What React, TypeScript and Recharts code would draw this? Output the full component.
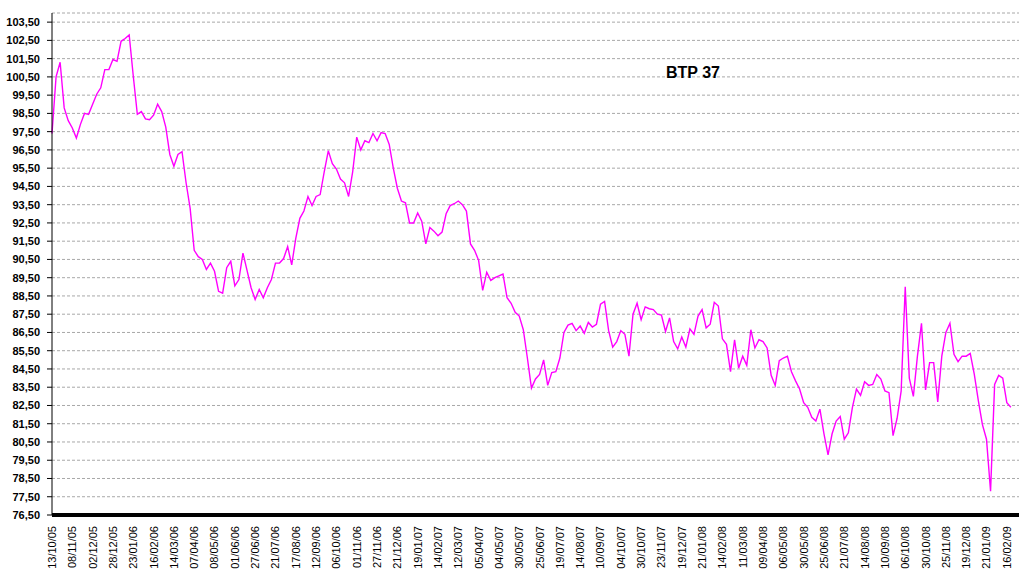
import { LineChart, Line, XAxis, YAxis, CartesianGrid } from 'recharts';

const dateLabels = [
  '13/10/05', '08/11/05', '02/12/05', '28/12/05', '23/01/06', '16/02/06', '14/03/06', '07/04/06',
  '08/05/06', '01/06/06', '27/06/06', '21/07/06', '17/08/06', '12/09/06', '06/10/06', '01/11/06',
  '27/11/06', '21/12/06', '19/01/07', '14/02/07', '12/03/07', '05/04/07', '04/05/07', '30/05/07',
  '25/06/07', '19/07/07', '14/08/07', '10/09/07', '04/10/07', '30/10/07', '23/11/07', '19/12/07',
  '21/01/08', '14/02/08', '11/03/08', '09/04/08', '06/05/08', '30/05/08', '25/06/08', '21/07/08',
  '14/08/08', '10/09/08', '06/10/08', '30/10/08', '25/11/08', '19/12/08', '21/01/09', '16/02/09',
];

// one label every 5 points
const pointsPerLabel = 5;

const prices = [
  97.4, 100.5, 101.3, 98.8, 98.1, 97.7, 97.15, 97.9, 98.5, 98.45,
  99.0, 99.55, 99.9, 100.9, 100.9, 101.45, 101.35, 102.45, 102.6, 102.8,
  100.55, 98.45, 98.6, 98.2, 98.15, 98.4, 99.0, 98.6, 97.75, 96.25,
  95.6, 96.25, 96.4, 94.7, 93.3, 91.0, 90.65, 90.5, 89.95, 90.3,
  89.85, 88.75, 88.65, 90.05, 90.4, 89.05, 89.4, 90.85, 89.9, 88.95,
  88.3, 88.85, 88.4, 88.95, 89.4, 90.3, 90.3, 90.55, 91.2, 90.2,
  91.65, 92.75, 93.15, 93.95, 93.45, 93.95, 94.05, 95.3, 96.45, 95.75,
  95.45, 94.9, 94.7, 93.95, 95.3, 97.2, 96.5, 97.0, 96.9, 97.4,
  97.0, 97.45, 97.4, 96.8, 95.5, 94.4, 93.7, 93.6, 92.5, 92.5,
  93.05, 92.6, 91.35, 92.25, 92.05, 91.8, 92.0, 93.0, 93.45, 93.55,
  93.7, 93.5, 93.15, 91.35, 91.0, 90.45, 88.8, 89.8, 89.35, 89.5,
  89.6, 89.7, 88.4, 88.1, 87.6, 87.4, 86.65, 85.1, 83.45, 83.95,
  84.2, 85.0, 83.6, 84.3, 84.35, 85.1, 86.5, 86.9, 87.0, 86.6,
  86.85, 86.45, 87.05, 86.8, 86.95, 88.05, 88.2, 86.6, 85.7, 86.0,
  86.6, 86.4, 85.2, 87.5, 88.1, 87.2, 87.9, 87.8, 87.75, 87.5,
  87.45, 86.55, 87.3, 86.0, 85.6, 86.25, 85.7, 86.7, 86.4, 87.4,
  87.75, 86.75, 86.95, 88.15, 87.95, 86.15, 85.85, 84.35, 86.1, 84.55,
  85.2, 84.7, 86.65, 85.65, 86.1, 86.0, 85.65, 84.15, 83.6, 84.95,
  85.1, 85.2, 84.35, 83.85, 83.4, 82.65, 82.4, 81.85, 81.65, 82.3,
  80.95, 79.8, 80.95, 81.65, 81.9, 80.65, 81.0, 82.4, 83.4, 83.05,
  83.8, 83.6, 83.65, 84.2, 83.95, 83.3, 83.2, 80.85, 81.8, 83.3,
  89.0, 84.0, 83.0, 85.2, 87.0, 83.35, 84.85, 84.85, 82.7, 85.2,
  86.5, 87.0, 85.3, 84.9, 85.2, 85.2, 85.35, 84.2, 82.75, 81.45,
  80.65, 77.8, 83.65, 84.15, 84.0, 82.65, 82.4,
];

const yTicks = [
  76.5, 77.5, 78.5, 79.5, 80.5, 81.5, 82.5, 83.5, 84.5, 85.5, 86.5, 87.5, 88.5, 89.5,
  90.5, 91.5, 92.5, 93.5, 94.5, 95.5, 96.5, 97.5, 98.5, 99.5, 100.5, 101.5, 102.5, 103.5,
];

const data = prices.map((v, i) => ({ i, v }));
const xTicks = dateLabels.map((_, k) => k * pointsPerLabel);

const font = '"Liberation Sans", Arial, sans-serif';

const DateTick = ({ x, y, payload }: any) => (
  <g transform={`translate(${x},${y + 11})`}>
    <text
      x={0}
      y={0}
      dy="0.36em"
      transform="rotate(-90)"
      textAnchor="end"
      fontSize={11}
      fontFamily={font}
      fill="#000"
    >
      {dateLabels[Math.round(payload.value / pointsPerLabel)]}
    </text>
  </g>
);

const App = () => {
  return (
    <div style={{ position: 'absolute', left: 0, top: 0, width: 1027, height: 581, background: '#fff' }}>
      <LineChart width={1027} height={581} data={data} margin={{ top: 13, right: 8, bottom: 6, left: 0 }}>
        <CartesianGrid vertical={false} stroke="#a8a8a8" strokeDasharray="3 2" />
        <XAxis
          type="number"
          dataKey="i"
          domain={[0, 238]}
          ticks={xTicks}
          interval={0}
          height={60}
          tickLine={false}
          tickSize={0}
          tickMargin={0}
          axisLine={{ stroke: '#000', strokeWidth: 4 }}
          tick={<DateTick />}
        />
        <YAxis
          type="number"
          domain={[76.5, 104]}
          ticks={yTicks}
          interval={0}
          width={52}
          allowDataOverflow
          axisLine={{ stroke: '#000' }}
          tickLine={{ stroke: '#000' }}
          tickSize={5}
          tickMargin={7}
          tick={{ fill: '#000', fontSize: 11, fontWeight: 'bold', fontFamily: font }}
          tickFormatter={(v: number) => v.toFixed(2).replace('.', ',')}
        />
        <Line
          type="linear"
          dataKey="v"
          stroke="#ff00ff"
          strokeWidth={1.4}
          dot={false}
          isAnimationActive={false}
        />
      </LineChart>
      <div
        style={{
          position: 'absolute',
          left: 666,
          top: 65,
          fontFamily: font,
          fontWeight: 'bold',
          fontSize: 16,
          lineHeight: '16px',
          color: '#000',
        }}
      >
        BTP 37
      </div>
    </div>
  );
};

export default App;
